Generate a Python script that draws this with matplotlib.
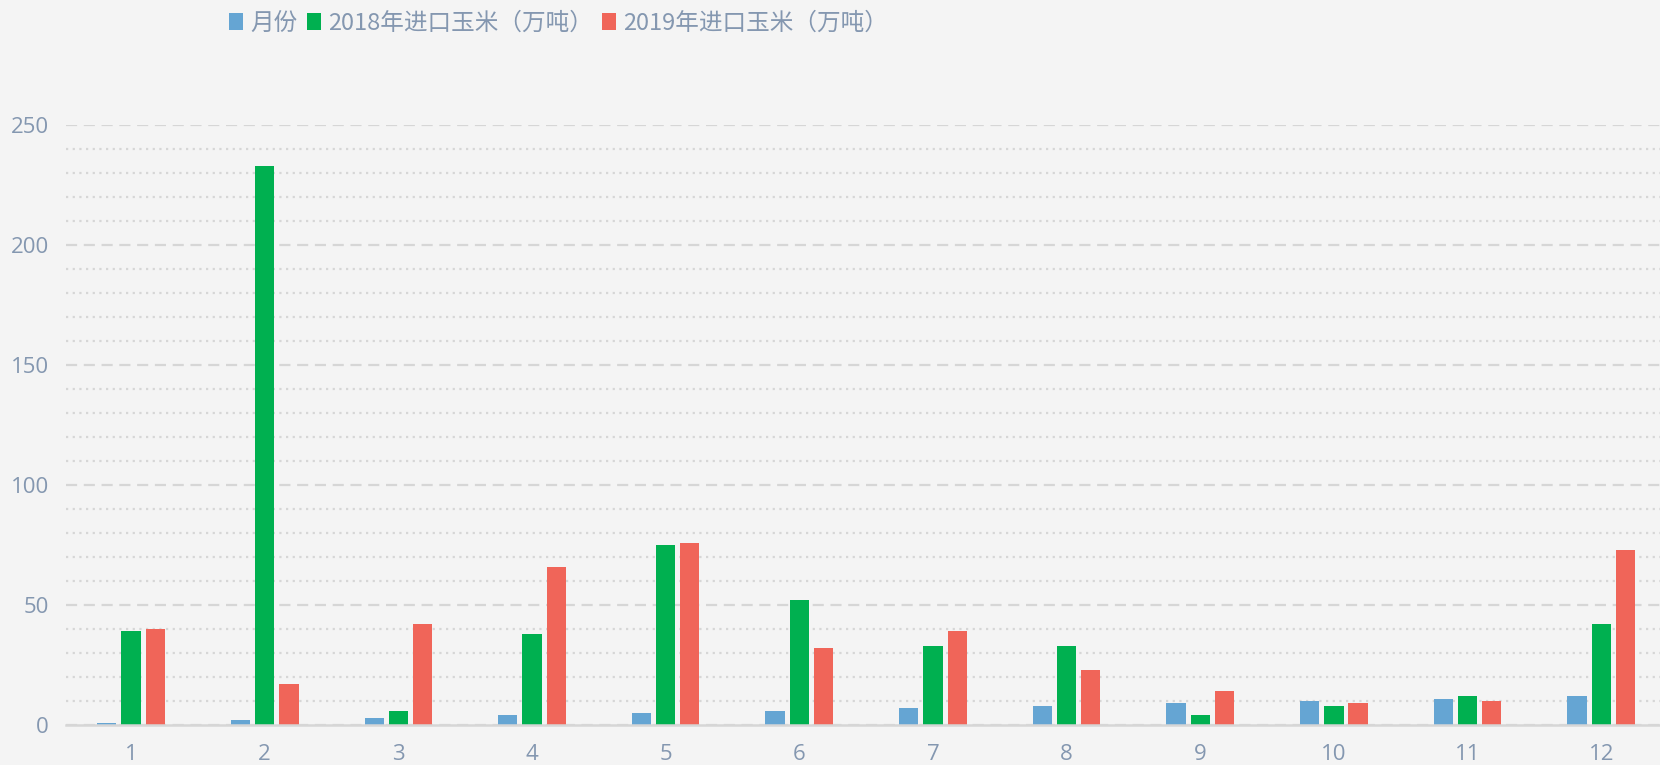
import matplotlib
matplotlib.use("Agg")
import matplotlib.pyplot as plt
import numpy as np
from matplotlib.patches import Patch

plt.rcParams['font.family'] = ['Noto Sans CJK SC', 'DejaVu Sans']

categories = ['1', '2', '3', '4', '5', '6', '7', '8', '9', '10', '11', '12']
month_vals = [1, 2, 3, 4, 5, 6, 7, 8, 9, 10, 11, 12]
imp_2018 = [39, 233, 6, 38, 75, 52, 33, 33, 4, 8, 12, 42]
imp_2019 = [40, 17, 42, 66, 76, 32, 39, 23, 14, 9, 10, 73]
series_names = ['月份', '2018年进口玉米（万吨）', '2019年进口玉米（万吨）']
colors = ['#65a5d3', '#00b050', '#f06559']

bg = '#f4f4f4'
txt = '#8497b0'
gridc = '#d6d6d6'

fig = plt.figure(figsize=(16.6, 7.65), dpi=100, facecolor=bg)
ax = fig.add_axes([0.0395, 0.0523, 0.9605, 0.7843], facecolor=bg)

x = np.arange(len(categories))
w = 0.144
step = 0.181
for i, (vals, c) in enumerate(zip([month_vals, imp_2018, imp_2019], colors)):
    ax.bar(x + (i - 1) * step, vals, width=w, color=c, zorder=3)

ax.set_ylim(0, 250)
ax.set_xlim(-0.49, 11.44)
ax.set_xticks(x)
ax.set_xticklabels(categories)
ax.set_yticks(np.arange(0, 251, 50))
ax.set_yticks([v for v in range(10, 250, 10) if v % 50 != 0], minor=True)
ax.yaxis.grid(True, which='major', color=gridc, linestyle=(0, (5, 3)), linewidth=1.6, zorder=0)
ax.yaxis.grid(True, which='minor', color=gridc, linestyle=(0, (1, 2)), linewidth=1.6, zorder=0)
for s in ['top', 'right', 'left']:
    ax.spines[s].set_visible(False)
ax.spines['bottom'].set_color(gridc)
ax.spines['bottom'].set_linewidth(1.8)
ax.spines['bottom'].set_zorder(4)
ax.tick_params(axis='both', which='both', length=0, colors=txt, labelsize=16)
ax.tick_params(axis='x', pad=14)
ax.tick_params(axis='y', pad=12)
for lab in ax.get_xticklabels() + ax.get_yticklabels():
    lab.set_family(['Open Sans', 'DejaVu Sans'])

handles = [Patch(facecolor=c, edgecolor='none') for c in colors]
leg = fig.legend(handles, series_names, loc='upper left', bbox_to_anchor=(0.125, 1.012),
                 ncol=3, frameon=False, fontsize=17, labelcolor=txt,
                 handlelength=0.6, handleheight=0.75, handletextpad=0.3, columnspacing=0.4)

fig.savefig('out.png', dpi=100, facecolor=bg)
